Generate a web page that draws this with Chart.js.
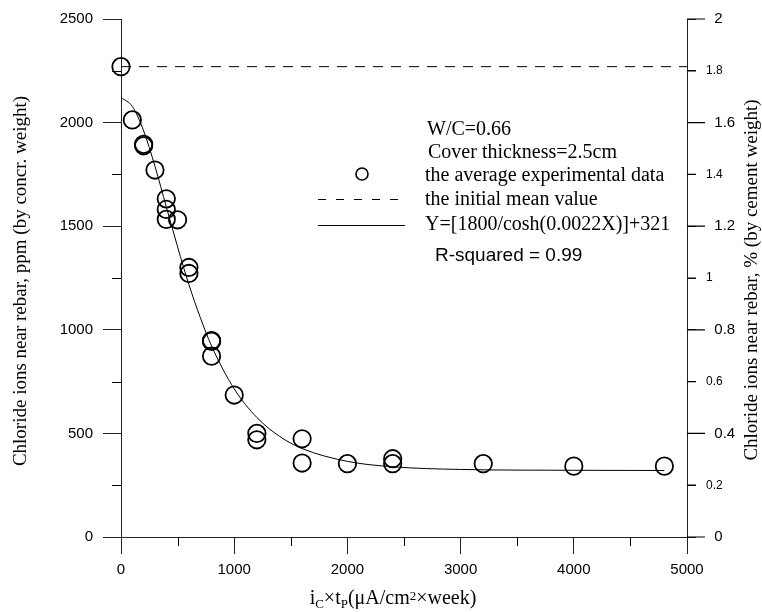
<!DOCTYPE html>
<html>
<head>
<meta charset="utf-8">
<script src="https://cdn.jsdelivr.net/npm/chart.js@4.4.0/dist/chart.umd.min.js"></script>
<style>
  html, body { margin: 0; padding: 0; background: #fff; overflow: hidden; }
  canvas { display: block; }
</style>
</head>
<body>
<canvas id="chlorideChart" width="762" height="612"></canvas>
<script>
// Experimental points (ic x tp, chloride ppm)
const expX = [0, 100, 200, 200, 300, 400, 400, 400, 500, 600, 600, 800, 800, 800, 1000, 1200, 1200, 1600, 1600, 2000, 2400, 2400, 3200, 4000, 4800];
const expY = [2270, 2013, 1895, 1888, 1771, 1632, 1581, 1533, 1531, 1301, 1272, 948, 944, 873, 685, 500, 469, 474, 357, 354, 378, 354, 354, 342, 342];

// Fitted curve
const fitX = [0, 100, 200, 300, 400, 500, 600, 700, 800, 1000, 1200, 1400, 1600, 2000, 2400, 3000, 4000, 4800];
const fitY = [2121, 2078, 1960, 1789, 1594, 1400, 1218, 1060, 922, 715, 577, 486, 427, 365, 339, 326, 322, 321];

// Initial mean value (dashed line)
const meanX = [0, 5000];
const meanY = [2270, 2270];

// Tick values / labels
const xTickLabels = ['0', '1000', '2000', '3000', '4000', '5000'];
const leftTickLabels = ['0', '500', '1000', '1500', '2000', '2500'];
const leftMinorTicks = [250, 750, 1250, 1750, 2250];
const xMinorTicks = [500, 1500, 2500, 3500, 4500];
const rightTickValues = [0, 0.2, 0.4, 0.6, 0.8, 1, 1.2, 1.4, 1.6, 1.8, 2];
const rightTickLabels = ['0', '0.2', '0.4', '0.6', '0.8', '1', '1.2', '1.4', '1.6', '1.8', '2'];

const SANS = 'Liberation Sans';
const SERIF = 'Liberation Serif';

function toPoints(xs, ys) {
  return xs.map((x, i) => ({ x: x, y: ys[i] }));
}

// draws a run of text pieces with sub/superscripts, centred on cx
function drawRichText(c, pieces, cx, baseY) {
  let total = 0;
  pieces.forEach(p => {
    c.font = p.size + 'px "' + SERIF + '"';
    p.w = c.measureText(p.t).width;
    total += p.w;
  });
  let x = cx - total / 2;
  c.textAlign = 'left';
  c.textBaseline = 'alphabetic';
  pieces.forEach(p => {
    c.font = p.size + 'px "' + SERIF + '"';
    c.fillText(p.t, x, baseY + (p.dy || 0));
    x += p.w;
  });
}

const chartExtras = {
  id: 'chartExtras',
  afterDraw(chart) {
    const c = chart.ctx;
    const { left, right, bottom } = chart.chartArea;
    const sx = chart.scales.x, sy = chart.scales.y, sy2 = chart.scales.y2;
    c.save();
    c.setLineDash([]);
    c.strokeStyle = '#000';
    c.lineWidth = 1;

    // shorter minor ticks on the left and bottom axes
    c.beginPath();
    leftMinorTicks.forEach(v => {
      const p = Math.round(sy.getPixelForValue(v)) + 0.5;
      c.moveTo(left - 9, p); c.lineTo(left, p);
    });
    xMinorTicks.forEach(v => {
      const p = Math.round(sx.getPixelForValue(v)) + 0.5;
      c.moveTo(p, bottom); c.lineTo(p, bottom + 9);
    });
    c.stroke();

    // right axis ticks: long at 0, 0.4, 0.8 ..., short in between
    c.lineWidth = 1.2;
    c.beginPath();
    rightTickValues.forEach((v, i) => {
      const p = sy2.getPixelForValue(v);
      c.moveTo(right, p); c.lineTo(right + (i % 2 === 0 ? 18 : 9), p);
    });
    c.stroke();

    // legend block
    c.fillStyle = '#000';
    c.textAlign = 'left';
    c.textBaseline = 'middle';
    c.font = '20px "' + SERIF + '"';
    c.fillText('W/C=0.66', 427, 130);
    c.fillText('Cover thickness=2.5cm', 428, 153);
    c.fillText('the average experimental data', 425, 176);
    c.fillText('the initial mean value', 425, 200);
    c.fillText('Y=[1800/cosh(0.0022X)]+321', 425, 225);
    c.font = '19px "' + SANS + '"';
    c.fillText('R-squared = 0.99', 435, 256);

    c.lineWidth = 1.6;
    c.beginPath();
    c.arc(362, 174, 6, 0, Math.PI * 2);
    c.stroke();

    c.lineWidth = 1;
    c.setLineDash([8, 10]);
    c.beginPath();
    c.moveTo(318, 199.5); c.lineTo(402, 199.5);
    c.stroke();
    c.setLineDash([]);
    c.beginPath();
    c.moveTo(318, 225.5); c.lineTo(405, 225.5);
    c.stroke();

    // axis titles
    c.font = '19px "' + SERIF + '"';
    c.textAlign = 'center';
    c.textBaseline = 'middle';
    c.save();
    c.translate(21, 281);
    c.rotate(-Math.PI / 2);
    c.fillText('Chloride ions near rebar, ppm (by concr. weight)', 0, 0);
    c.restore();
    c.save();
    c.translate(752, 280);
    c.rotate(-Math.PI / 2);
    c.fillText('Chloride ions near rebar, % (by cement weight)', 0, 0);
    c.restore();

    drawRichText(c, [
      { t: 'i', size: 20 },
      { t: 'C', size: 13, dy: 4 },
      { t: '\u00d7t', size: 20 },
      { t: 'P', size: 13, dy: 4 },
      { t: '(\u03bcA/cm', size: 20 },
      { t: '2', size: 13, dy: -4 },
      { t: '\u00d7week)', size: 20 }
    ], 393, 604);

    c.restore();
  }
};

const ctx = document.getElementById('chlorideChart').getContext('2d');
new Chart(ctx, {
  type: 'scatter',
  data: {
    datasets: [
      {
        label: 'the average experimental data',
        data: toPoints(expX, expY),
        pointStyle: 'circle',
        pointRadius: 8.7,
        pointBorderWidth: 1.8,
        borderColor: '#000',
        backgroundColor: 'rgba(0,0,0,0)',
        showLine: false,
        clip: false
      },
      {
        label: 'the initial mean value',
        data: toPoints(meanX, meanY),
        showLine: true,
        borderColor: '#000',
        borderWidth: 1,
        borderDash: [10, 8],
        pointRadius: 0,
        clip: false
      },
      {
        label: 'Y=[1800/cosh(0.0022X)]+321',
        data: toPoints(fitX, fitY),
        showLine: true,
        borderColor: '#000',
        borderWidth: 1,
        pointRadius: 0,
        cubicInterpolationMode: 'monotone',
        clip: false
      }
    ]
  },
  options: {
    responsive: false,
    animation: false,
    layout: { padding: { top: 16, left: 0, right: 0, bottom: 0 } },
    plugins: {
      legend: { display: false },
      tooltip: { enabled: false }
    },
    scales: {
      x: {
        type: 'linear',
        position: 'bottom',
        min: 0,
        max: 5000,
        ticks: {
          stepSize: 1000, color: '#000', padding: 7, maxRotation: 0,
          font: { family: SANS, size: 15 },
          callback: (v, i) => xTickLabels[i]
        },
        grid: { drawOnChartArea: false, tickLength: 17, color: '#222' },
        border: { color: '#222' },
        afterFit: s => { s.height = 75; }
      },
      y: {
        type: 'linear',
        position: 'left',
        min: 0,
        max: 2500,
        ticks: {
          stepSize: 500, color: '#000', padding: 10,
          font: { family: SANS, size: 15 },
          callback: (v, i) => leftTickLabels[i]
        },
        grid: { drawOnChartArea: false, tickLength: 18, color: '#222' },
        border: { color: '#222' },
        afterFit: s => { s.width = 121; }
      },
      y2: {
        type: 'linear',
        position: 'right',
        min: 0,
        max: 2,
        ticks: {
          stepSize: 0.2,
          color: '#000',
          padding: 10,
          callback: (v, i) => (i % 2 === 0 ? '  ' : '') + rightTickLabels[i],
          font: c => ({ family: SANS, size: c.index % 2 === 0 ? 15 : 12 })
        },
        grid: { drawOnChartArea: false, tickLength: 9, color: '#222' },
        border: { color: '#222' },
        afterFit: s => { s.width = 75; }
      }
    }
  },
  plugins: [chartExtras]
});
</script>
</body>
</html>
